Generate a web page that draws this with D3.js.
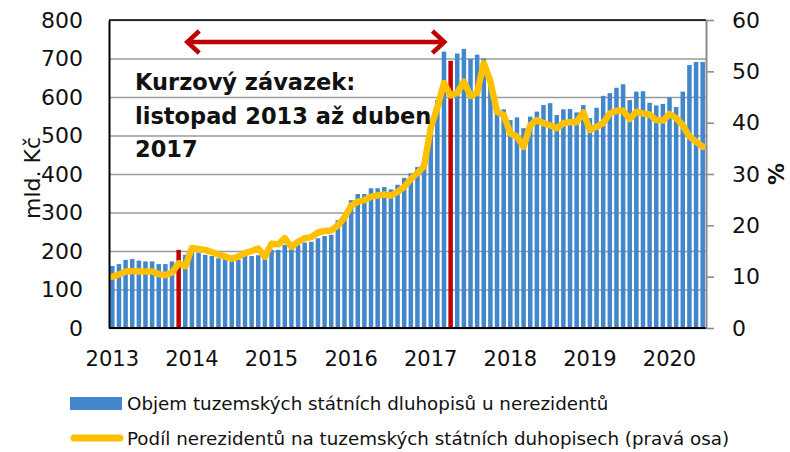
<!DOCTYPE html>
<html>
<head>
<meta charset="utf-8">
<script src="https://cdn.jsdelivr.net/npm/d3@7"></script>
<style>
  body { margin: 0; background: #fff; }
  svg text { font-family: "DejaVu Sans", sans-serif; fill: #111; }
</style>
</head>
<body>
<div id="chart"></div>
<script>
// Monthly data, Jan 2013 - Jun 2020
const months = d3.timeMonth.range(new Date(2013, 0, 1), new Date(2020, 6, 1));
const yearLabels = ["2013", "2014", "2015", "2016", "2017", "2018", "2019", "2020"];

// Objem tuzemských státních dluhopisů u nerezidentů (mld. Kč)
const volume = [
    161, 166, 177, 179, 175, 173, 173, 166, 166, 173, 203, 190,
    198, 196, 190, 187, 181, 181, 175, 177, 195, 187, 189, 184,
    203, 203, 216, 207, 216, 222, 224, 233, 239, 242, 280, 289,
    332, 348, 348, 363, 363, 366, 360, 372, 390, 402, 418, 428,
    514, 592, 718, 694, 713, 725, 699, 710, 700, 650, 571, 568,
    540, 547, 519, 549, 562, 579, 584, 553, 568, 569, 560, 579,
    545, 572, 603, 610, 624, 633, 592, 614, 615, 585, 578, 582,
    599, 574, 614, 683, 691, 691
];

// Podíl nerezidentů (%)
const share = [
    10.0, 10.4, 11.0, 11.1, 11.0, 11.0, 11.0, 10.5, 10.3, 10.8, 12.6, 12.0,
    15.6, 15.4, 15.2, 14.8, 14.3, 13.9, 13.5, 13.9, 14.6, 15.0, 15.5, 13.9,
    16.4, 16.3, 17.5, 15.8, 16.8, 17.5, 17.7, 18.6, 18.9, 19.0, 20.0, 21.5,
    23.8, 24.6, 24.9, 25.6, 25.8, 26.0, 25.8, 26.5, 27.5, 29.0, 30.2, 31.5,
    39.0, 43.0, 47.7, 45.3, 45.8, 48.0, 45.2, 45.8, 51.6, 48.0, 42.1, 41.5,
    37.9, 37.3, 35.3, 39.5, 40.5, 39.9, 39.5, 38.9, 39.9, 40.1, 40.1, 42.0,
    38.6, 39.2, 39.9, 41.8, 42.3, 42.3, 40.7, 42.1, 41.8, 41.6, 40.5, 40.4,
    41.7, 40.9, 39.5, 37.3, 36.3, 35.3
];

// months highlighted in red (start / end of the exchange-rate commitment)
const highlighted = [10, 51];

const leftTicks = [0, 100, 200, 300, 400, 500, 600, 700, 800];
const rightTicks = [0, 10, 20, 30, 40, 50, 60];
const noteLines = ["Kurzový závazek:", "listopad 2013 až duben", "2017"];
const legendLabels = [
    "Objem tuzemských státních dluhopisů u nerezidentů",
    "Podíl nerezidentů na tuzemských státních duhopisech (pravá osa)"
];

const width = 790, height = 452;
const margin = { top: 20, right: 84, bottom: 124, left: 109 };
const plotW = width - margin.left - margin.right;
const plotH = height - margin.top - margin.bottom;

const blue = "#4286cb", yellow = "#ffc000", red = "#c00000";

const svg = d3.select("#chart").append("svg")
    .attr("width", width)
    .attr("height", height);

const g = svg.append("g")
    .attr("transform", `translate(${margin.left},${margin.top})`);

const x = d3.scaleBand()
    .domain(d3.range(months.length))
    .range([0, plotW])
    .paddingInner(0.32)
    .paddingOuter(0.16);

const yL = d3.scaleLinear().domain([0, 800]).range([plotH, 0]);
const yR = d3.scaleLinear().domain([0, 60]).range([plotH, 0]);

// gridlines
g.append("g")
    .call(d3.axisLeft(yL).tickValues(leftTicks).tickSize(-plotW).tickFormat(""))
    .call(s => s.select(".domain").remove())
    .selectAll("line")
    .attr("stroke", "#9a9a9a")
    .attr("stroke-width", 1.6);

// bars
g.append("g").selectAll("rect")
    .data(volume)
    .join("rect")
    .attr("x", (d, i) => x(i))
    .attr("width", x.bandwidth())
    .attr("y", d => yL(d))
    .attr("height", d => plotH - yL(d))
    .attr("fill", (d, i) => highlighted.includes(i) ? red : blue);

// line
const line = d3.line()
    .x((d, i) => x(i) + x.bandwidth() / 2)
    .y(d => yR(d));

g.append("path")
    .datum(share)
    .attr("d", line)
    .attr("fill", "none")
    .attr("stroke", yellow)
    .attr("stroke-width", 6.5)
    .attr("stroke-linejoin", "round")
    .attr("stroke-linecap", "round");

// frame: top line
g.append("line").attr("x1", 0).attr("x2", plotW).attr("y1", 0).attr("y2", 0)
    .attr("stroke", "#000").attr("stroke-width", 1.6);

// left axis
const leftAxis = g.append("g")
    .call(d3.axisLeft(yL).tickValues(leftTicks).tickSize(0).tickPadding(26));
leftAxis.select(".domain").attr("stroke", "#000").attr("stroke-width", 2);
leftAxis.selectAll("text").style("font-size", "22px").attr("fill", "#111");

// bottom axis line
g.append("line").attr("x1", 0).attr("x2", plotW).attr("y1", plotH).attr("y2", plotH)
    .attr("stroke", "#000").attr("stroke-width", 2);

// right axis
const rightAxis = g.append("g")
    .attr("transform", `translate(${plotW},0)`)
    .call(d3.axisRight(yR).tickValues(rightTicks).tickSize(8).tickPadding(18).tickSizeOuter(0));
rightAxis.select(".domain").attr("stroke", "#8c8c8c").attr("stroke-width", 2);
rightAxis.selectAll("line").attr("stroke", "#8c8c8c").attr("stroke-width", 1.6);
rightAxis.selectAll("text").style("font-size", "22px").attr("fill", "#111");

// year labels at January of each year
g.append("g").selectAll("text")
    .data(yearLabels)
    .join("text")
    .attr("x", (d, i) => x(i * 12) + x.bandwidth() / 2)
    .attr("y", plotH + 38)
    .attr("text-anchor", "middle")
    .style("font-size", "21px")
    .text(d => d);

// axis titles
svg.append("text")
    .attr("transform", "translate(40,178) rotate(-90)")
    .attr("text-anchor", "middle")
    .style("font-size", "22px")
    .text("mld. Kč");

svg.append("text")
    .attr("transform", "translate(784,174) rotate(-90)")
    .attr("text-anchor", "middle")
    .style("font-size", "22px")
    .style("font-weight", "bold")
    .text("%");

// red double arrow over the commitment period
const ax0 = x(11) + x.bandwidth() / 2, ax1 = x(51) - 2, ay = 22;
const arrow = g.append("g")
    .attr("stroke", red)
    .attr("fill", "none")
    .attr("stroke-width", 4.5);
arrow.append("line").attr("x1", ax0 + 3).attr("x2", ax1 - 3).attr("y1", ay).attr("y2", ay);
arrow.append("path").attr("d", `M${ax0 + 14},${ay - 11} L${ax0 + 2},${ay} L${ax0 + 14},${ay + 11}`);
arrow.append("path").attr("d", `M${ax1 - 14},${ay - 11} L${ax1 - 2},${ay} L${ax1 - 14},${ay + 11}`);

// annotation
g.append("text")
    .attr("x", 26)
    .attr("y", 70)
    .style("font-size", "22.5px")
    .style("font-weight", "bold")
    .selectAll("tspan")
    .data(noteLines)
    .join("tspan")
    .attr("x", 26)
    .attr("dy", (d, i) => i === 0 ? 0 : 33.5)
    .text(d => d);

// legend
const legend = svg.append("g");
legend.append("rect")
    .attr("x", 70).attr("y", 397).attr("width", 52).attr("height", 13)
    .attr("fill", blue);
legend.append("line")
    .attr("x1", 74).attr("x2", 120).attr("y1", 438).attr("y2", 438)
    .attr("stroke", yellow).attr("stroke-width", 7).attr("stroke-linecap", "round");
legend.selectAll("text.lg")
    .data(legendLabels)
    .join("text")
    .attr("class", "lg")
    .attr("x", 127)
    .attr("y", (d, i) => 410 + i * 35)
    .style("font-size", "18.3px")
    .text(d => d);
</script>
</body>
</html>
